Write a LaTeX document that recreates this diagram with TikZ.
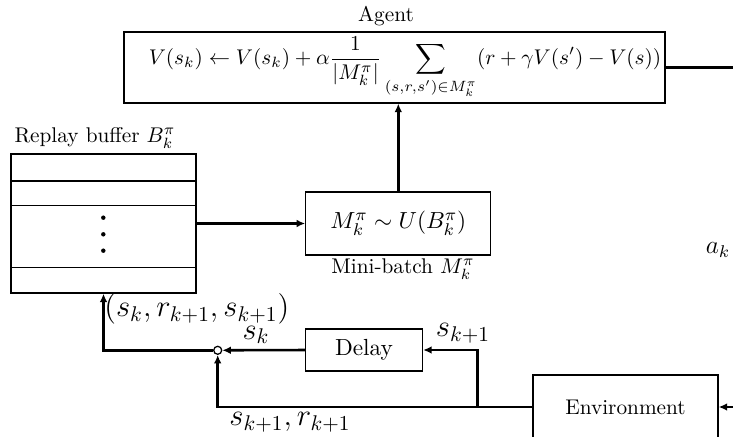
\documentclass[tikz,border=0pt]{standalone}
\usepackage{amsmath}
\usetikzlibrary{arrows.meta}
\begin{document}
\begin{tikzpicture}[x=0.47pt,y=-0.47pt,
  box/.style={draw, line width=0.6pt, inner sep=0pt, align=center},
  conn/.style={line width=1.2pt},
  arr/.style={conn, -{Latex[length=4pt,width=3.6pt]}},
  lbl/.style={inner sep=0pt}]
\clip (0,0) rectangle (733,437);
% boxes
\node[box, minimum width=541*0.47pt, minimum height=71*0.47pt] (agent) at (394.5,67.5) {};
\node[lbl] (eq) at (405,67.5)
  {\fontsize{9.7}{12}\selectfont $\displaystyle V(s_k)\leftarrow V(s_k)+\alpha\frac{1}{|M_k^\pi|}\sum_{(s,r,s')\in M_k^\pi}(r+\gamma V(s')-V(s))$};
\node[box, minimum width=185*0.47pt, minimum height=139*0.47pt] (buffer) at (103.5,223.5) {};
\node[box, minimum width=185*0.47pt, minimum height=63*0.47pt] (mini) at (398.3,223.5) {\fontsize{11}{13}\selectfont $M_k^\pi\sim U(B_k^\pi)$};
\node[box, minimum width=117*0.47pt, minimum height=42*0.47pt] (delay) at (364,350) {\fontsize{10.95}{13}\selectfont Delay};
\node[box, minimum width=185*0.47pt, minimum height=64*0.47pt] (env) at (625.5,407) {Environment};
\node[draw, circle, fill=white, line width=0.6pt, inner sep=0pt, minimum size=8*0.47pt] (junc) at (217.7,350.3) {};
% buffer rows and dots
\draw[line width=0.6pt] (11,181) -- (196,181);
\draw[line width=0.6pt] (11,205.3) -- (196,205.3);
\draw[line width=0.6pt] (11,267.7) -- (196,267.7);
\fill (103.3,217.7) circle[radius=1.05pt];
\fill (103.3,234.3) circle[radius=1.05pt];
\fill (103.3,250.7) circle[radius=1.05pt];
% coordinates
\coordinate (aout) at (745,67.5);
\coordinate (ein) at (745,407);
\coordinate (split) at (477.7,407);
% connectors
\draw[arr] (buffer.east) -- (mini.west);
\draw[arr] (mini.north) -- (mini.north |- agent.south);
\draw[conn] (agent.east) -- (aout);
\draw[arr] (ein) -- (env.east);
\draw[conn] (env.west) -- (split);
\draw[arr] (split) |- (delay.east);
\draw[arr] (split) -| (junc.south);
\draw[arr] (delay.west) -- (junc.east);
\draw[arr] (junc.west) -| (buffer.south);
% labels
\node[lbl] (agentlbl) at (386,16) {Agent};
\node[lbl] (buflbl) at (95,138) {Replay buffer $B_k^\pi$};
\node[lbl] (minilbl) at (403,269) {Mini-batch $M_k^\pi$};
\node[lbl] (ak) at (718,250) {\large $a_k$};
\node[lbl, anchor=west] (tuple) at (104,309) {\Large $(s_k,r_{k+1},s_{k+1})$};
\node[lbl] (sk) at (256,335) {\Large $s_k$};
\node[lbl] (skp) at (463,333) {\Large $s_{k+1}$};
\node[lbl] (skr) at (290,422) {\Large $s_{k+1},r_{k+1}$};
\end{tikzpicture}
\end{document}
